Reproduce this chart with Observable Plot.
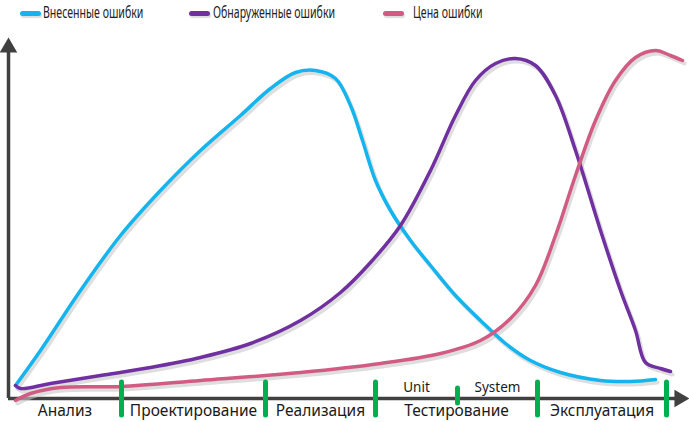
<!DOCTYPE html>
<html><head><meta charset="utf-8">
<script src="https://cdn.jsdelivr.net/npm/d3@7"></script>
<script src="https://cdn.jsdelivr.net/npm/@observablehq/plot@0.6"></script>
<style>
body{margin:0;background:#fff;font-family:"Noto Sans",sans-serif;}
#wrap{position:relative;width:689px;height:422px;}
.sw{position:absolute;top:11px;width:21px;height:5px;border-radius:3px;box-shadow:1px 2px 1px #ddd}
.lt{position:absolute;top:2px;font-size:16px;line-height:21px;color:#222;white-space:nowrap;transform:scaleX(0.66);transform-origin:0 50%}
</style></head><body>
<div id="wrap"></div>
<script>
// series (x: time, y: level)
const seriesNames = ["Внесенные ошибки", "Обнаруженные ошибки", "Цена ошибки"];
const seriesColors = ["#14b4ee", "#7030a0", "#d25b84"];
const introduced = [[7,13],[32,48],[72,108],[112,163],[152,208],[192,248],[232,283],[262,310],[287,326],[307,328],[327,320],[342,293],[354,258],[367,218],[382,188],[402,158],[422,133],[447,103],[472,78],[497,55],[522,38],[552,26],[592,18],[622,17],[647,19]];
const detected = [[7,13],[12,10],[42,15],[92,23],[142,31],[192,41],[242,55],[292,78],[332,106],[362,136],[392,173],[422,228],[447,283],[467,318],[487,335],[507,340],[527,333],[547,303],[567,248],[592,168],[612,108],[627,68],[637,36],[652,30],[662,27]];
const cost = [[7,-2],[22,5],[52,11],[112,12],[192,18],[292,26],[372,35],[432,45],[472,58],[502,80],[527,113],[547,163],[567,223],[587,278],[607,318],[627,341],[647,348],[662,343],[674,338]];
// phases
const phaseBounds = [0, 113, 257, 367, 529, 658];
const phaseNames = ["Анализ", "Проектирование", "Реализация", "Тестирование", "Эксплуатация"];
const subBound = 449;
const subNames = ["Unit", "System"];
const xMax = 678, yMax = 358;

const allSeries = [introduced, detected, cost];
const lines = allSeries.flatMap((s, i) => s.map(([x, y]) => ({x, y, s: seriesNames[i]})));
const majorMarks = phaseBounds.slice(1);
const phaseLabels = phaseNames.map((n, i) => ({n, x: (phaseBounds[i] + phaseBounds[i + 1]) / 2}));
const subLabels = [{n: subNames[0], x: (phaseBounds[3] + subBound) / 2}, {n: subNames[1], x: (subBound + phaseBounds[4]) / 2}];

const chart = Plot.plot({
  width: 689, height: 422,
  marginLeft: 8, marginRight: 3, marginTop: 40, marginBottom: 24,
  x: {domain: [0, xMax], axis: null},
  y: {domain: [0, yMax], axis: null},
  color: {domain: seriesNames, range: seriesColors},
  style: {fontFamily: "Noto Sans, sans-serif", background: "transparent", overflow: "visible"},
  marks: [
    Plot.ruleX([0], {y1: 0, y2: yMax - 8, stroke: "#404040", strokeWidth: 3.5}),
    Plot.ruleY([0], {x1: 0, x2: xMax - 8, stroke: "#404040", strokeWidth: 3.5}),
    Plot.dot([0], {x: 0, y: yMax - 7, symbol: "triangle", r: 6.5, fill: "#404040", stroke: null}),
    Plot.dot([0], {x: xMax - 7, y: 0, symbol: "triangle", r: 6.5, fill: "#404040", stroke: null, rotate: 90}),
    Plot.line(lines, {x: "x", y: "y", z: "s", curve: "catmull-rom", stroke: "#c8c8c8", strokeOpacity: 0.6, strokeWidth: 4, dx: 2, dy: 3}),
    Plot.line(lines, {x: "x", y: "y", z: "s", stroke: "s", curve: "catmull-rom", strokeWidth: 3.5, strokeLinecap: "round"}),
    Plot.ruleX(majorMarks, {x: d => d, y1: 16, y2: -17, stroke: "#00b050", strokeWidth: 5, strokeLinecap: "round"}),
    Plot.ruleX([subBound], {x: d => d, y1: 10, y2: -5, stroke: "#00b050", strokeWidth: 5, strokeLinecap: "round"}),
    Plot.text(phaseLabels, {x: "x", y: 0, text: "n", dy: 13, fontSize: 15.5, fill: "#1a1a1a"}),
    Plot.text(subLabels, {x: "x", y: 0, text: "n", dy: -11, fontSize: 13.5, fill: "#1a1a1a"})
  ]
});
const wrap = document.getElementById("wrap");
wrap.appendChild(chart);
const swX = [20, 189, 383];
const txtX = [43, 213, 413];
seriesNames.forEach((n, i) => {
  const s = document.createElement("div");
  s.className = "sw";
  s.style.left = swX[i] + "px";
  s.style.background = seriesColors[i];
  wrap.appendChild(s);
  const t = document.createElement("div");
  t.className = "lt";
  t.style.left = txtX[i] + "px";
  t.textContent = n;
  wrap.appendChild(t);
});
</script>
</body></html>
